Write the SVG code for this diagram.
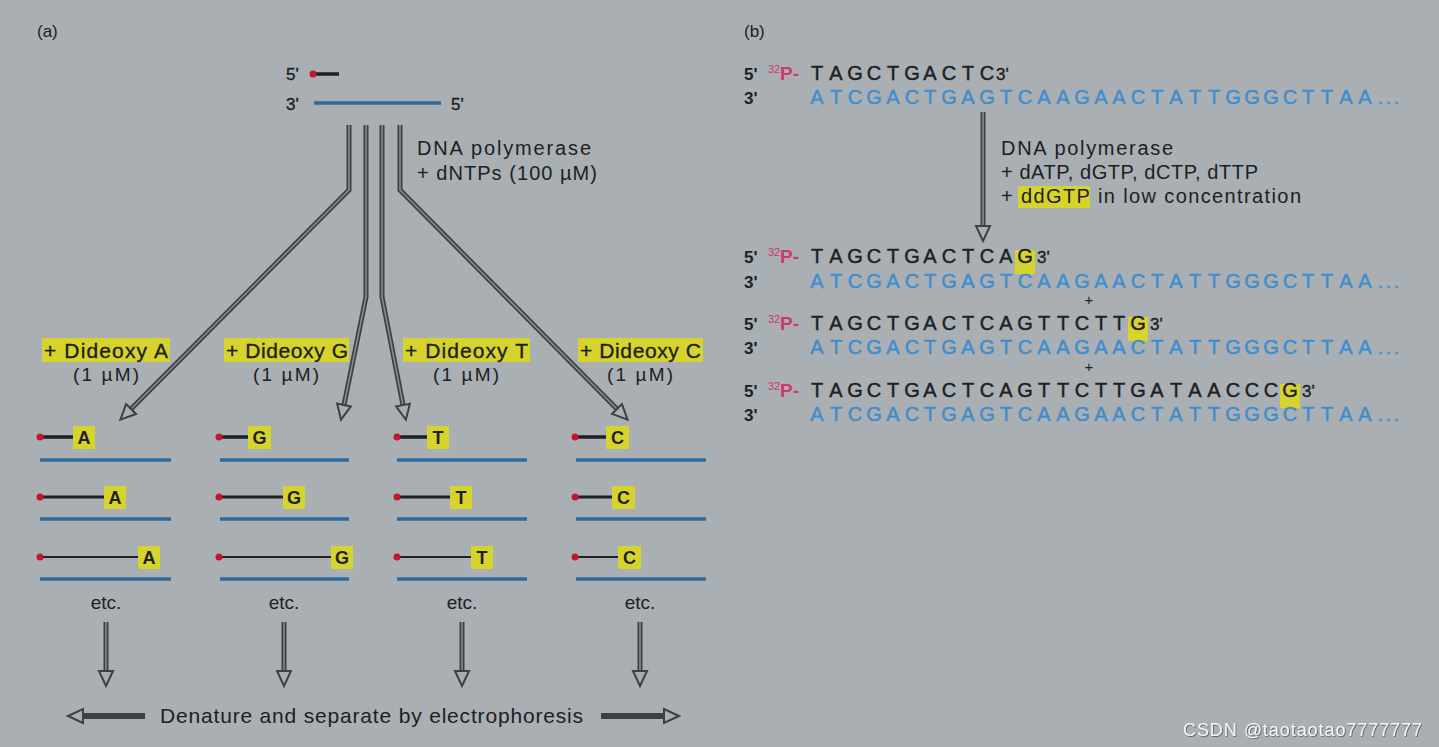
<svg xmlns="http://www.w3.org/2000/svg" width="1439" height="747" viewBox="0 0 1439 747">
<defs>
<style>
.t{font-family:"Liberation Sans",Arial,sans-serif;fill:#1d2123}
.th{stroke:#1d2123;stroke-width:0.35}
.s16{font-size:16px}
.s17{font-size:17px}
.s18{font-size:18px}
.s20{font-size:20px}
.seq{font-size:20px;font-family:"Liberation Sans",Arial,sans-serif;text-anchor:middle}
.blk{fill:#1d2123;stroke:#1d2123;stroke-width:0.45}
.blu{fill:#3f8dcd;stroke:#3f8dcd;stroke-width:0.45}
.pk{fill:#cc3a6e;font-family:"Liberation Sans",Arial,sans-serif}
.hl{fill:#d6d42c}
.so{stroke:#3c4143;stroke-width:5;fill:none}
.si{stroke:#858c8f;stroke-width:1.6;fill:none}
.sd{stroke:#3c4143;stroke-width:6;fill:none}
.dot{fill:#c4162f}
.bs{stroke:#2e6a9d;stroke-width:3.5}
.ks{stroke:#1d2123}
.mid{text-anchor:middle}
.lt{font-size:18px;font-weight:bold;text-anchor:middle}
</style>
<marker id="ah" markerUnits="userSpaceOnUse" viewBox="0 0 20 20" markerWidth="20" markerHeight="20" refX="3" refY="10" orient="auto">
<path d="M3,3 L18,10 L3,17 Z" fill="#a8aeb1" stroke="#3c4143" stroke-width="2"/>
</marker>
<filter id="shd" x="-5%" y="-30%" width="110%" height="160%">
<feDropShadow dx="0.8" dy="0.8" stdDeviation="0.6" flood-color="#4a5154" flood-opacity="0.9"/>
</filter>
</defs>
<rect width="1439" height="747" fill="#a9afb2"/>

<text class="t s17" x="37" y="37">(a)</text>
<text class="t s17" x="744" y="37">(b)</text>

<g id="template-top">
<text class="t s17 th" x="286" y="80">5'</text>
<line class="ks" x1="312" y1="74" x2="339" y2="74" stroke-width="3.5"/>
<circle class="dot" cx="313" cy="74" r="3.5"/>
<text class="t s17 th" x="286" y="110">3'</text>
<line class="bs" x1="314" y1="103" x2="441" y2="103"/>
<text class="t s17 th" x="451" y="110">5'</text>
<text class="t s20" x="417" y="155" textLength="174">DNA polymerase</text>
<text class="t s20" x="417" y="180" textLength="180">+ dNTPs (100 µM)</text>
</g>

<g id="connectors">
<path class="so" d="M349,125 V190 L131,409"/>
<path class="si" d="M349,125 V190 L131,409" marker-end="url(#ah)"/>
<path class="so" d="M366,125 V297 L344,405"/>
<path class="si" d="M366,125 V297 L344,405" marker-end="url(#ah)"/>
<path class="so" d="M382,125 V297 L403,405"/>
<path class="si" d="M382,125 V297 L403,405" marker-end="url(#ah)"/>
<path class="so" d="M400,125 V190 L617,409"/>
<path class="si" d="M400,125 V190 L617,409" marker-end="url(#ah)"/>
<path class="so" d="M106,622 V671"/>
<path class="si" d="M106,622 V671" marker-end="url(#ah)"/>
<path class="so" d="M284,622 V671"/>
<path class="si" d="M284,622 V671" marker-end="url(#ah)"/>
<path class="so" d="M462,622 V671"/>
<path class="si" d="M462,622 V671" marker-end="url(#ah)"/>
<path class="so" d="M640,622 V671"/>
<path class="si" d="M640,622 V671" marker-end="url(#ah)"/>
<path class="sd" d="M145,716 H83" marker-end="url(#ah)"/>
<path class="sd" d="M601,716 H664" marker-end="url(#ah)"/>
<path class="so" d="M983,112 V226"/>
<path class="si" d="M983,112 V226" marker-end="url(#ah)"/>
</g>

<g id="lane-A">
<rect class="hl" x="42" y="338" width="128" height="24"/>
<text class="t th" x="44" y="358" font-size="21" textLength="124">+ Dideoxy A</text>
<text class="t mid" x="106" y="381" font-size="19" textLength="66">(1 µM)</text>
<line class="ks" x1="40" y1="437" x2="73" y2="437" stroke-width="3.5"/>
<circle class="dot" cx="40" cy="437" r="3.5"/>
<rect class="hl" x="73" y="426" width="22" height="23"/>
<text class="t lt" x="84" y="444">A</text>
<line class="bs" x1="40" y1="460" x2="171" y2="460"/>
<line class="ks" x1="40" y1="497" x2="104" y2="497" stroke-width="3"/>
<circle class="dot" cx="40" cy="497" r="3.5"/>
<rect class="hl" x="104" y="486" width="22" height="23"/>
<text class="t lt" x="115" y="504">A</text>
<line class="bs" x1="40" y1="519" x2="171" y2="519"/>
<line class="ks" x1="40" y1="557" x2="138" y2="557" stroke-width="2"/>
<circle class="dot" cx="40" cy="557" r="3.5"/>
<rect class="hl" x="138" y="546" width="22" height="23"/>
<text class="t lt" x="149" y="564">A</text>
<line class="bs" x1="40" y1="579" x2="171" y2="579"/>
<text class="t mid" x="106" y="609" font-size="19">etc.</text>
</g>

<g id="lane-G">
<rect class="hl" x="224" y="338" width="125" height="24"/>
<text class="t th" x="226" y="358" font-size="21" textLength="122">+ Dideoxy G</text>
<text class="t mid" x="286" y="381" font-size="19" textLength="66">(1 µM)</text>
<line class="ks" x1="219" y1="437" x2="248" y2="437" stroke-width="3.5"/>
<circle class="dot" cx="219" cy="437" r="3.5"/>
<rect class="hl" x="248" y="426" width="23" height="23"/>
<text class="t lt" x="259.5" y="444">G</text>
<line class="bs" x1="220" y1="460" x2="349" y2="460"/>
<line class="ks" x1="219" y1="497" x2="283" y2="497" stroke-width="3"/>
<circle class="dot" cx="219" cy="497" r="3.5"/>
<rect class="hl" x="283" y="486" width="22" height="23"/>
<text class="t lt" x="294" y="504">G</text>
<line class="bs" x1="220" y1="519" x2="349" y2="519"/>
<line class="ks" x1="219" y1="557" x2="331" y2="557" stroke-width="2"/>
<circle class="dot" cx="219" cy="557" r="3.5"/>
<rect class="hl" x="331" y="546" width="22" height="23"/>
<text class="t lt" x="342" y="564">G</text>
<line class="bs" x1="220" y1="579" x2="349" y2="579"/>
<text class="t mid" x="284" y="609" font-size="19">etc.</text>
</g>

<g id="lane-T">
<rect class="hl" x="403" y="338" width="127" height="24"/>
<text class="t th" x="405" y="358" font-size="21" textLength="123">+ Dideoxy T</text>
<text class="t mid" x="466" y="381" font-size="19" textLength="66">(1 µM)</text>
<line class="ks" x1="397" y1="437" x2="427" y2="437" stroke-width="3.5"/>
<circle class="dot" cx="397" cy="437" r="3.5"/>
<rect class="hl" x="427" y="426" width="22" height="23"/>
<text class="t lt" x="438" y="444">T</text>
<line class="bs" x1="397" y1="460" x2="527" y2="460"/>
<line class="ks" x1="397" y1="497" x2="450" y2="497" stroke-width="3"/>
<circle class="dot" cx="397" cy="497" r="3.5"/>
<rect class="hl" x="450" y="486" width="22" height="23"/>
<text class="t lt" x="461" y="504">T</text>
<line class="bs" x1="397" y1="519" x2="527" y2="519"/>
<line class="ks" x1="397" y1="557" x2="471" y2="557" stroke-width="2"/>
<circle class="dot" cx="397" cy="557" r="3.5"/>
<rect class="hl" x="471" y="546" width="22" height="23"/>
<text class="t lt" x="482" y="564">T</text>
<line class="bs" x1="397" y1="579" x2="527" y2="579"/>
<text class="t mid" x="462" y="609" font-size="19">etc.</text>
</g>

<g id="lane-C">
<rect class="hl" x="578" y="338" width="125" height="24"/>
<text class="t th" x="580" y="358" font-size="21" textLength="121">+ Dideoxy C</text>
<text class="t mid" x="640" y="381" font-size="19" textLength="66">(1 µM)</text>
<line class="ks" x1="575" y1="437" x2="606" y2="437" stroke-width="3.5"/>
<circle class="dot" cx="575" cy="437" r="3.5"/>
<rect class="hl" x="606" y="426" width="23" height="23"/>
<text class="t lt" x="617.5" y="444">C</text>
<line class="bs" x1="576" y1="460" x2="706" y2="460"/>
<line class="ks" x1="575" y1="497" x2="612" y2="497" stroke-width="3"/>
<circle class="dot" cx="575" cy="497" r="3.5"/>
<rect class="hl" x="612" y="486" width="23" height="23"/>
<text class="t lt" x="623.5" y="504">C</text>
<line class="bs" x1="576" y1="519" x2="706" y2="519"/>
<line class="ks" x1="575" y1="557" x2="618" y2="557" stroke-width="2"/>
<circle class="dot" cx="575" cy="557" r="3.5"/>
<rect class="hl" x="618" y="546" width="23" height="23"/>
<text class="t lt" x="629.5" y="564">C</text>
<line class="bs" x1="576" y1="579" x2="706" y2="579"/>
<text class="t mid" x="640" y="609" font-size="19">etc.</text>
</g>

<g id="electrophoresis-label">
<text class="t" x="160" y="723" font-size="21" textLength="423">Denature and separate by electrophoresis</text>
</g>

<g id="b-start">
<text class="t s17" x="744" y="80" font-weight="bold">5'</text>
<text class="pk" x="768" y="73" font-size="11">32</text>
<text class="pk" x="780" y="80" font-size="19" font-weight="bold">P-</text>
<text class="seq blk" y="80" x="817 836 855 874 893 912 930 949 968 987">TAGCTGACTC</text>
<text class="t s17 th" x="996" y="80">3'</text>
<text class="t s17" x="744" y="104" font-weight="bold">3'</text>
<text class="seq blu" y="104" x="817 836 855 874 893 912 930 949 968 987 1006 1025 1044 1063 1082 1101 1119 1138 1157 1176 1195 1214 1233 1252 1271 1290 1308 1327 1346 1365">ATCGACTGAGTCAAGAACTATTGGGCTTAA</text>
<text class="t s18 blu" x="1378" y="104" letter-spacing="3">...</text>
</g>

<g id="b-reaction-label">
<text class="t s20" x="1001" y="155" textLength="172">DNA polymerase</text>
<text class="t s20" x="1001" y="179" textLength="257">+ dATP, dGTP, dCTP, dTTP</text>
<rect class="hl" x="1018" y="186" width="72" height="22"/>
<text class="t s20" x="1001" y="203" textLength="300">+ ddGTP in low concentration</text>
</g>

<g id="b-product-1">
<text class="t s17" x="744" y="263" font-weight="bold">5'</text>
<text class="pk" x="768" y="256" font-size="11">32</text>
<text class="pk" x="780" y="263" font-size="19" font-weight="bold">P-</text>
<rect class="hl" x="1015" y="250" width="20" height="24"/>
<text class="seq blk" y="263" x="817 836 855 874 893 912 930 949 968 987 1006 1025">TAGCTGACTCAG</text>
<text class="t s17 th" x="1037" y="263">3'</text>
<text class="t s17" x="744" y="288" font-weight="bold">3'</text>
<text class="seq blu" y="288" x="817 836 855 874 893 912 930 949 968 987 1006 1025 1044 1063 1082 1101 1119 1138 1157 1176 1195 1214 1233 1252 1271 1290 1308 1327 1346 1365">ATCGACTGAGTCAAGAACTATTGGGCTTAA</text>
<text class="t s18 blu" x="1378" y="288" letter-spacing="3">...</text>
<text class="t mid" x="1089" y="305" font-size="15">+</text>
</g>

<g id="b-product-2">
<text class="t s17" x="744" y="330" font-weight="bold">5'</text>
<text class="pk" x="768" y="323" font-size="11">32</text>
<text class="pk" x="780" y="330" font-size="19" font-weight="bold">P-</text>
<rect class="hl" x="1128" y="317" width="20" height="24"/>
<text class="seq blk" y="330" x="817 836 855 874 893 912 930 949 968 987 1006 1025 1044 1063 1082 1101 1119 1138">TAGCTGACTCAGTTCTTG</text>
<text class="t s17 th" x="1150" y="330">3'</text>
<text class="t s17" x="744" y="354" font-weight="bold">3'</text>
<text class="seq blu" y="354" x="817 836 855 874 893 912 930 949 968 987 1006 1025 1044 1063 1082 1101 1119 1138 1157 1176 1195 1214 1233 1252 1271 1290 1308 1327 1346 1365">ATCGACTGAGTCAAGAACTATTGGGCTTAA</text>
<text class="t s18 blu" x="1378" y="354" letter-spacing="3">...</text>
<text class="t mid" x="1089" y="372" font-size="15">+</text>
</g>

<g id="b-product-3">
<text class="t s17" x="744" y="397" font-weight="bold">5'</text>
<text class="pk" x="768" y="390" font-size="11">32</text>
<text class="pk" x="780" y="397" font-size="19" font-weight="bold">P-</text>
<rect class="hl" x="1280" y="384" width="20" height="24"/>
<text class="seq blk" y="397" x="817 836 855 874 893 912 930 949 968 987 1006 1025 1044 1063 1082 1101 1119 1138 1157 1176 1195 1214 1233 1252 1271 1290">TAGCTGACTCAGTTCTTGATAACCCG</text>
<text class="t s17 th" x="1302" y="397">3'</text>
<text class="t s17" x="744" y="421" font-weight="bold">3'</text>
<text class="seq blu" y="421" x="817 836 855 874 893 912 930 949 968 987 1006 1025 1044 1063 1082 1101 1119 1138 1157 1176 1195 1214 1233 1252 1271 1290 1308 1327 1346 1365">ATCGACTGAGTCAAGAACTATTGGGCTTAA</text>
<text class="t s18 blu" x="1378" y="421" letter-spacing="3">...</text>
</g>

<text x="1183" y="736" font-family="'Liberation Sans',Arial,sans-serif" font-size="18" fill="#f4f5f5" filter="url(#shd)" textLength="239">CSDN @taotaotao7777777</text>
</svg>
